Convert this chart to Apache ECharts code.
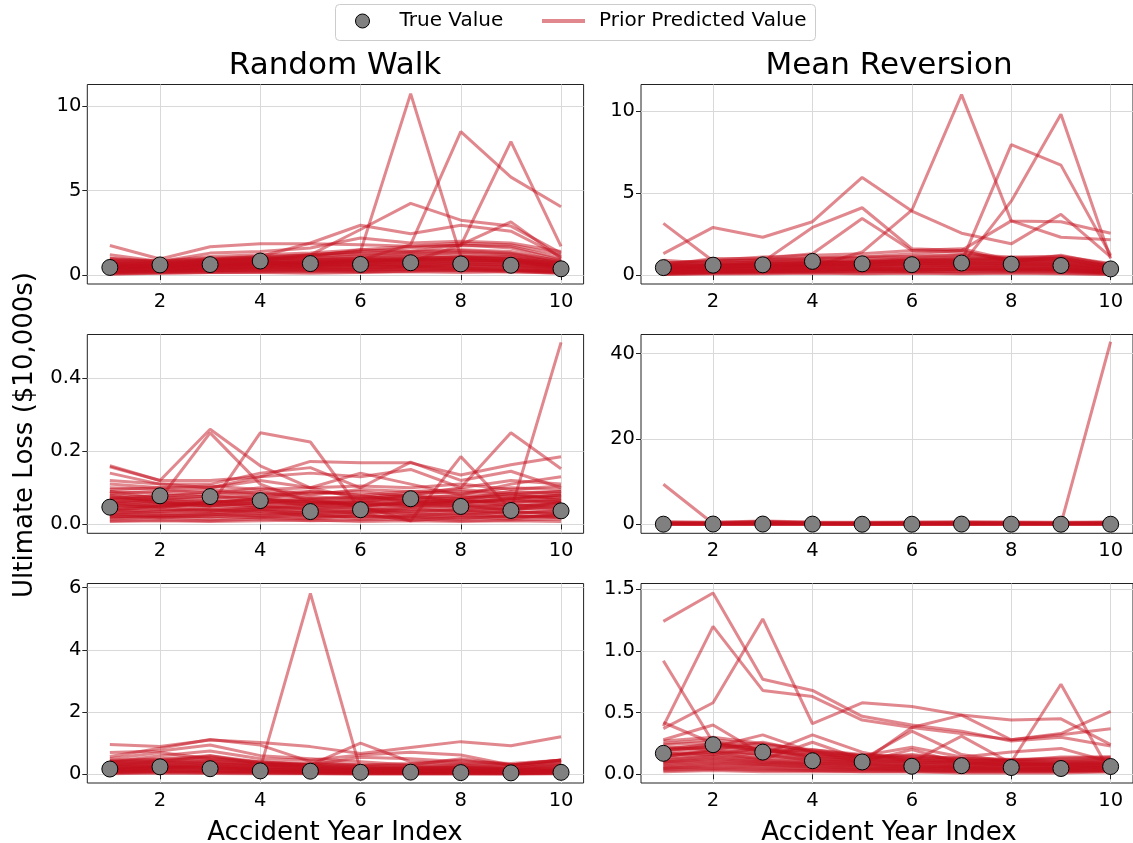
<!DOCTYPE html>
<html>
<head>
<meta charset="utf-8">
<script src="https://cdn.jsdelivr.net/npm/echarts@6/dist/echarts.min.js"></script>
<style>
html, body { margin: 0; padding: 0; background: #fff; }
#main { width: 1133px; height: 843px; }
</style>
</head>
<body>
<div id="main"></div>
<script>
// accident year index (x axis)
var years = [1, 2, 3, 4, 5, 6, 7, 8, 9, 10];

// true values, one array per row (same data for both models)
var trueTop = [0.45, 0.60, 0.62, 0.83, 0.68, 0.63, 0.73, 0.66, 0.58, 0.37];
var trueMid = [0.047, 0.078, 0.076, 0.065, 0.035, 0.040, 0.070, 0.049, 0.038, 0.037];
var trueBot = [0.17, 0.24, 0.18, 0.11, 0.10, 0.065, 0.07, 0.055, 0.047, 0.063];

// prior predicted draws - Random Walk, top row
var rwTop = [
  [0.30,0.45,0.50,0.60,0.55,0.60,0.70,0.65,0.60,0.40],
  [0.50,0.55,0.70,0.80,0.75,0.90,0.85,0.95,0.80,0.50],
  [0.20,0.30,0.35,0.40,0.45,0.40,0.50,0.45,0.40,0.25],
  [0.65,0.70,0.80,0.95,1.00,1.10,1.20,1.30,1.20,0.70],
  [0.15,0.20,0.25,0.30,0.25,0.30,0.35,0.30,0.30,0.20],
  [0.40,0.50,0.60,0.70,0.80,0.75,0.90,1.00,0.95,0.60],
  [0.80,0.75,0.90,1.00,1.10,1.30,1.40,1.50,1.40,0.80],
  [0.10,0.15,0.20,0.20,0.25,0.20,0.25,0.30,0.25,0.15],
  [0.35,0.40,0.45,0.55,0.60,0.65,0.60,0.70,0.75,0.45],
  [0.55,0.60,0.65,0.75,0.70,0.85,0.95,0.90,0.85,0.55],
  [0.25,0.35,0.40,0.45,0.50,0.55,0.50,0.60,0.55,0.35],
  [0.70,0.65,0.85,0.90,0.95,1.00,1.10,1.15,1.05,0.65],
  [0.45,0.50,0.55,0.65,0.60,0.70,0.80,0.75,0.70,0.45],
  [0.05,0.10,0.15,0.15,0.10,0.15,0.20,0.15,0.20,0.10],
  [0.60,0.55,0.75,0.85,0.90,0.95,1.00,1.05,1.10,0.75],
  [0.90,0.85,1.00,1.10,1.20,1.40,1.60,1.80,1.60,0.90],
  [0.30,0.30,0.40,0.50,0.45,0.50,0.55,0.50,0.50,0.30],
  [0.20,0.25,0.30,0.35,0.40,0.35,0.45,0.40,0.35,0.20],
  [1.00,0.80,1.10,1.20,1.30,1.50,1.70,1.75,1.70,1.00],
  [0.40,0.45,0.50,0.55,0.65,0.60,0.70,0.80,0.75,0.50],
  [0.35,0.50,0.55,0.70,0.65,0.80,0.75,0.85,0.80,0.45],
  [0.15,0.25,0.30,0.35,0.30,0.35,0.40,0.40,0.35,0.20],
  [0.75,0.70,0.85,1.00,0.95,1.15,1.25,1.35,1.25,0.75],
  [0.50,0.45,0.60,0.65,0.70,0.80,0.85,0.85,0.90,0.55],
  [0.25,0.30,0.35,0.45,0.40,0.45,0.50,0.55,0.50,0.30],
  [0.60,0.65,0.75,0.85,0.85,0.95,1.05,1.00,0.95,0.60],
  [0.08,0.12,0.15,0.18,0.20,0.18,0.22,0.25,0.20,0.12],
  [0.45,0.55,0.60,0.70,0.75,0.80,0.90,0.90,0.85,0.50],
  [0.85,0.80,0.95,1.05,1.15,1.25,1.35,1.45,1.30,0.85],
  [0.30,0.35,0.45,0.50,0.55,0.55,0.60,0.65,0.60,0.40],
  [0.55,0.50,0.65,0.75,0.80,0.90,0.95,1.10,1.00,0.65],
  [0.20,0.20,0.25,0.30,0.35,0.30,0.35,0.35,0.30,0.15],
  [1.00,0.70,0.90,1.00,1.20,1.40,10.75,1.10,0.90,0.70],
  [0.50,0.45,0.60,0.70,0.80,0.90,1.80,8.50,5.80,4.05],
  [0.30,0.40,0.50,0.55,0.60,0.70,0.80,1.75,7.90,1.70],
  [1.75,0.95,1.68,1.85,1.85,1.80,1.70,1.90,1.80,1.20],
  [0.80,0.60,0.90,1.10,1.90,2.95,2.45,2.95,2.60,1.10],
  [0.60,0.50,0.70,0.80,1.20,2.70,4.25,3.25,2.90,1.30],
  [0.70,0.55,0.80,0.90,1.10,1.50,1.40,1.80,3.15,1.00],
  [1.20,0.80,1.30,1.40,1.60,2.20,1.90,2.00,1.90,1.40]
];

// Mean Reversion, top row
var mrTop = [
  [0.20,0.30,0.35,0.40,0.45,0.40,0.50,0.45,0.40,0.20],
  [0.40,0.50,0.55,0.65,0.60,0.70,0.75,0.70,0.65,0.35],
  [0.10,0.15,0.20,0.20,0.25,0.20,0.25,0.30,0.25,0.10],
  [0.60,0.70,0.80,0.90,0.85,1.00,1.10,0.95,0.90,0.50],
  [0.30,0.35,0.40,0.50,0.55,0.60,0.55,0.60,0.55,0.30],
  [0.05,0.10,0.10,0.15,0.10,0.15,0.10,0.15,0.10,0.05],
  [0.50,0.60,0.65,0.75,0.80,0.85,0.90,0.85,0.80,0.45],
  [0.25,0.20,0.30,0.35,0.30,0.35,0.40,0.35,0.30,0.15],
  [0.70,0.80,0.90,1.00,1.00,1.10,1.20,1.00,1.00,0.60],
  [0.15,0.25,0.25,0.30,0.35,0.30,0.35,0.40,0.35,0.20],
  [0.35,0.45,0.50,0.55,0.60,0.65,0.70,0.65,0.60,0.30],
  [0.45,0.40,0.60,0.60,0.70,0.75,0.80,0.75,0.70,0.40],
  [0.08,0.12,0.15,0.18,0.20,0.25,0.20,0.22,0.18,0.08],
  [0.55,0.65,0.70,0.80,0.90,0.95,1.00,0.90,0.95,0.55],
  [0.28,0.30,0.32,0.45,0.40,0.45,0.50,0.50,0.45,0.25],
  [0.12,0.18,0.22,0.25,0.28,0.32,0.30,0.28,0.26,0.12],
  [0.65,0.55,0.75,0.85,0.75,0.90,0.95,1.05,1.10,0.65],
  [0.38,0.42,0.45,0.60,0.50,0.55,0.65,0.55,0.50,0.28],
  [0.22,0.28,0.30,0.38,0.40,0.42,0.45,0.40,0.38,0.18],
  [0.48,0.55,0.62,0.70,0.70,0.78,0.82,0.78,0.72,0.42],
  [0.14,0.20,0.22,0.28,0.30,0.28,0.32,0.32,0.30,0.14],
  [0.58,0.62,0.72,0.82,0.80,0.92,1.00,0.90,0.85,0.48],
  [0.32,0.38,0.45,0.52,0.50,0.55,0.60,0.58,0.52,0.26],
  [0.03,0.06,0.08,0.10,0.08,0.10,0.08,0.10,0.08,0.03],
  [0.42,0.48,0.52,0.62,0.65,0.68,0.72,0.68,0.62,0.36],
  [0.75,0.85,0.95,1.05,1.10,1.15,1.25,1.10,1.15,0.70],
  [0.18,0.22,0.28,0.32,0.35,0.38,0.35,0.38,0.34,0.18],
  [0.52,0.58,0.68,0.72,0.78,0.82,0.88,0.82,0.78,0.40],
  [0.40,0.50,0.60,0.50,1.40,3.95,11.00,3.30,3.25,2.55],
  [0.30,0.40,0.40,0.50,0.60,0.70,0.60,4.50,9.80,1.00],
  [0.50,0.60,0.50,0.70,0.80,0.90,0.80,7.95,6.70,1.20],
  [3.15,0.85,0.90,1.00,1.10,1.30,1.50,3.30,2.30,2.15],
  [1.30,2.90,2.30,3.25,5.95,3.90,2.55,1.90,3.70,1.10],
  [0.90,0.70,0.80,2.90,4.10,1.60,1.50,0.80,1.20,0.60],
  [0.60,1.00,1.00,1.30,3.45,1.50,1.40,0.90,1.00,0.50],
  [0.70,0.90,1.10,1.20,1.30,1.50,1.60,0.90,1.00,0.50]
];

// Random Walk, middle row
var rwMid = [
  [0.030,0.040,0.035,0.045,0.030,0.035,0.040,0.035,0.030,0.035],
  [0.050,0.060,0.055,0.050,0.045,0.050,0.060,0.055,0.050,0.055],
  [0.020,0.025,0.020,0.030,0.025,0.020,0.025,0.030,0.020,0.025],
  [0.070,0.080,0.075,0.070,0.060,0.065,0.070,0.080,0.075,0.080],
  [0.040,0.035,0.045,0.040,0.050,0.045,0.035,0.040,0.045,0.040],
  [0.090,0.085,0.080,0.090,0.070,0.075,0.085,0.090,0.080,0.090],
  [0.015,0.020,0.015,0.020,0.015,0.025,0.020,0.015,0.025,0.020],
  [0.060,0.070,0.065,0.060,0.055,0.060,0.065,0.060,0.065,0.060],
  [0.035,0.050,0.040,0.035,0.040,0.030,0.045,0.050,0.040,0.050],
  [0.080,0.075,0.090,0.080,0.085,0.090,0.075,0.070,0.090,0.085],
  [0.025,0.030,0.030,0.025,0.035,0.040,0.030,0.025,0.035,0.030],
  [0.045,0.055,0.050,0.060,0.050,0.055,0.050,0.065,0.060,0.070],
  [0.010,0.012,0.010,0.015,0.010,0.012,0.015,0.010,0.012,0.015],
  [0.100,0.095,0.085,0.100,0.080,0.095,0.090,0.085,0.100,0.095],
  [0.055,0.045,0.060,0.055,0.065,0.050,0.055,0.045,0.055,0.045],
  [0.065,0.075,0.070,0.080,0.075,0.070,0.080,0.075,0.070,0.075],
  [0.030,0.020,0.025,0.040,0.020,0.030,0.010,0.020,0.015,0.030],
  [0.075,0.065,0.060,0.070,0.090,0.080,0.060,0.065,0.085,0.065],
  [0.028,0.035,0.040,0.030,0.028,0.030,0.035,0.040,0.030,0.040],
  [0.062,0.058,0.060,0.065,0.060,0.058,0.062,0.058,0.060,0.065],
  [0.018,0.022,0.028,0.022,0.018,0.022,0.018,0.025,0.022,0.018],
  [0.085,0.090,0.095,0.085,0.090,0.080,0.090,0.095,0.085,0.090],
  [0.045,0.042,0.038,0.048,0.042,0.040,0.045,0.038,0.042,0.048],
  [0.072,0.068,0.078,0.072,0.068,0.075,0.068,0.072,0.078,0.072],
  [0.008,0.010,0.008,0.010,0.012,0.008,0.010,0.008,0.010,0.008],
  [0.052,0.048,0.052,0.045,0.058,0.062,0.050,0.052,0.048,0.058],
  [0.038,0.028,0.032,0.038,0.032,0.035,0.028,0.032,0.035,0.028],
  [0.095,0.100,0.105,0.095,0.100,0.105,0.100,0.110,0.095,0.105],
  [0.058,0.065,0.062,0.068,0.062,0.068,0.072,0.062,0.068,0.062],
  [0.022,0.018,0.022,0.018,0.028,0.015,0.022,0.018,0.020,0.022],
  [0.040,0.050,0.060,0.050,0.040,0.050,0.060,0.050,0.038,0.497],
  [0.160,0.120,0.260,0.160,0.100,0.070,0.080,0.060,0.070,0.080],
  [0.090,0.070,0.250,0.110,0.060,0.050,0.060,0.070,0.050,0.060],
  [0.080,0.060,0.050,0.250,0.225,0.040,0.050,0.060,0.070,0.080],
  [0.060,0.050,0.060,0.070,0.050,0.060,0.080,0.100,0.250,0.152],
  [0.070,0.060,0.050,0.060,0.070,0.050,0.010,0.185,0.040,0.060],
  [0.157,0.120,0.120,0.130,0.172,0.168,0.168,0.135,0.163,0.185],
  [0.140,0.110,0.110,0.140,0.155,0.100,0.170,0.120,0.145,0.100],
  [0.120,0.110,0.100,0.130,0.140,0.130,0.150,0.100,0.120,0.110],
  [0.110,0.100,0.100,0.120,0.100,0.140,0.110,0.080,0.110,0.130]
];

// Mean Reversion, middle row
var mrMid = [
  [0.05,0.05,0.10,0.05,0.05,0.05,0.05,0.05,0.05,0.05],
  [0.20,0.15,0.30,0.20,0.15,0.20,0.25,0.20,0.15,0.20],
  [0.40,0.35,0.50,0.40,0.35,0.40,0.45,0.40,0.35,0.40],
  [0.10,0.10,0.15,0.10,0.10,0.10,0.12,0.10,0.08,0.10],
  [0.30,0.25,0.60,0.30,0.25,0.30,0.35,0.30,0.25,0.30],
  [0.60,0.50,0.80,0.55,0.50,0.55,0.60,0.55,0.50,0.55],
  [0.02,0.03,0.04,0.03,0.02,0.03,0.03,0.02,0.02,0.03],
  [0.15,0.20,0.25,0.15,0.20,0.15,0.20,0.15,0.20,0.15],
  [0.50,0.45,0.70,0.45,0.40,0.45,0.50,0.45,0.40,0.50],
  [0.08,0.06,0.07,0.08,0.06,0.07,0.06,0.08,0.07,0.06],
  [9.40,0.20,0.30,0.20,0.15,0.20,0.25,0.20,0.20,0.25],
  [0.10,0.08,0.12,0.10,0.08,0.10,0.10,0.08,0.10,42.80]
];

// Random Walk, bottom row
var rwBot = [
  [0.10,0.15,0.12,0.10,0.08,0.06,0.05,0.06,0.04,0.05],
  [0.20,0.25,0.22,0.18,0.15,0.12,0.10,0.12,0.10,0.12],
  [0.30,0.35,0.40,0.30,0.25,0.20,0.18,0.20,0.15,0.20],
  [0.05,0.08,0.06,0.05,0.04,0.03,0.03,0.03,0.02,0.03],
  [0.15,0.20,0.30,0.15,0.12,0.10,0.08,0.10,0.08,0.10],
  [0.40,0.45,0.50,0.35,0.30,0.25,0.22,0.25,0.20,0.30],
  [0.25,0.30,0.25,0.22,0.20,0.15,0.14,0.15,0.12,0.15],
  [0.08,0.10,0.12,0.08,0.06,0.05,0.04,0.05,0.05,0.06],
  [0.35,0.40,0.35,0.28,0.22,0.18,0.16,0.18,0.14,0.22],
  [0.12,0.18,0.16,0.12,0.10,0.08,0.07,0.08,0.06,0.08],
  [0.45,0.50,0.60,0.40,0.35,0.30,0.28,0.32,0.25,0.40],
  [0.18,0.22,0.20,0.16,0.14,0.12,0.12,0.12,0.10,0.12],
  [0.02,0.04,0.03,0.02,0.02,0.01,0.01,0.02,0.01,0.02],
  [0.22,0.28,0.35,0.25,0.18,0.16,0.20,0.22,0.18,0.25],
  [0.18,0.24,0.20,0.16,0.13,0.11,0.10,0.11,0.09,0.12],
  [0.28,0.32,0.35,0.26,0.22,0.18,0.16,0.17,0.14,0.18],
  [0.06,0.10,0.08,0.07,0.05,0.04,0.04,0.05,0.03,0.05],
  [0.38,0.42,0.45,0.34,0.28,0.22,0.20,0.23,0.18,0.28],
  [0.14,0.18,0.20,0.14,0.11,0.09,0.08,0.09,0.07,0.10],
  [0.24,0.26,0.30,0.24,0.19,0.14,0.13,0.14,0.11,0.16],
  [0.10,0.12,0.11,0.09,0.07,0.06,0.06,0.06,0.05,0.07],
  [0.32,0.38,0.42,0.32,0.26,0.20,0.19,0.22,0.17,0.35],
  [0.04,0.06,0.05,0.04,0.03,0.02,0.02,0.03,0.02,0.04],
  [0.42,0.48,0.55,0.38,0.32,0.28,0.26,0.30,0.22,0.45],
  [0.15,0.20,0.25,0.19,5.81,0.14,0.10,0.12,0.08,0.10],
  [0.96,0.89,1.10,1.02,0.89,0.67,0.86,1.05,0.92,1.21],
  [0.57,0.84,1.12,0.94,0.41,0.30,0.35,0.45,0.30,0.46],
  [0.30,0.40,0.60,0.35,0.30,1.00,0.40,0.35,0.30,0.35],
  [0.40,0.60,0.75,0.50,0.45,0.62,0.71,0.62,0.30,0.46],
  [0.70,0.75,0.94,0.60,0.50,0.40,0.30,0.50,0.30,0.45],
  [0.50,0.70,0.50,0.40,0.30,0.55,0.50,0.40,0.35,0.45]
];

// Mean Reversion, bottom row
var mrBot = [
  [0.05,0.06,0.05,0.04,0.04,0.03,0.03,0.03,0.03,0.03],
  [0.10,0.12,0.10,0.08,0.07,0.06,0.06,0.05,0.05,0.06],
  [0.15,0.18,0.15,0.12,0.10,0.09,0.08,0.08,0.07,0.08],
  [0.20,0.25,0.20,0.16,0.14,0.12,0.11,0.10,0.10,0.11],
  [0.02,0.03,0.02,0.02,0.02,0.02,0.01,0.01,0.01,0.02],
  [0.08,0.10,0.08,0.07,0.06,0.05,0.05,0.04,0.04,0.05],
  [0.12,0.15,0.12,0.10,0.09,0.08,0.07,0.07,0.06,0.07],
  [0.18,0.22,0.18,0.14,0.12,0.11,0.10,0.09,0.09,0.10],
  [0.25,0.28,0.24,0.20,0.16,0.14,0.13,0.12,0.12,0.13],
  [0.04,0.05,0.04,0.03,0.03,0.03,0.02,0.02,0.02,0.03],
  [0.14,0.20,0.16,0.11,0.10,0.20,0.09,0.08,0.08,0.09],
  [0.06,0.08,0.07,0.06,0.05,0.04,0.04,0.04,0.03,0.04],
  [0.22,0.20,0.26,0.18,0.13,0.16,0.12,0.11,0.14,0.14],
  [0.11,0.14,0.11,0.09,0.08,0.07,0.06,0.06,0.05,0.06],
  [0.17,0.16,0.21,0.13,0.11,0.10,0.09,0.09,0.08,0.09],
  [0.09,0.11,0.09,0.08,0.07,0.06,0.05,0.05,0.05,0.05],
  [0.07,0.09,0.08,0.06,0.05,0.05,0.04,0.04,0.04,0.04],
  [0.13,0.16,0.13,0.11,0.09,0.08,0.07,0.07,0.06,0.07],
  [0.19,0.23,0.19,0.15,0.13,0.12,0.10,0.10,0.09,0.10],
  [0.03,0.04,0.03,0.03,0.02,0.02,0.02,0.02,0.02,0.02],
  [0.24,0.26,0.22,0.18,0.15,0.13,0.12,0.11,0.11,0.12],
  [0.10,0.13,0.10,0.09,0.08,0.07,0.06,0.06,0.05,0.06],
  [0.16,0.19,0.16,0.13,0.11,0.10,0.09,0.08,0.08,0.09],
  [0.21,0.24,0.21,0.17,0.14,0.13,0.11,0.11,0.10,0.12],
  [0.27,0.30,0.25,0.19,0.15,0.15,0.13,0.12,0.13,0.14],
  [0.05,0.07,0.06,0.05,0.04,0.04,0.03,0.03,0.03,0.03],
  [1.24,1.47,0.77,0.68,0.47,0.40,0.35,0.27,0.30,0.23],
  [0.39,1.20,0.68,0.63,0.44,0.38,0.33,0.28,0.32,0.37],
  [0.37,0.58,1.26,0.41,0.58,0.55,0.48,0.44,0.45,0.24],
  [0.92,0.26,0.20,0.15,0.12,0.10,0.09,0.08,0.08,0.07],
  [0.28,0.40,0.16,0.32,0.18,0.10,0.31,0.09,0.07,0.08],
  [0.20,0.22,0.32,0.18,0.10,0.38,0.48,0.28,0.33,0.51],
  [0.15,0.18,0.12,0.26,0.12,0.35,0.16,0.10,0.73,0.01],
  [0.42,0.25,0.18,0.20,0.15,0.22,0.14,0.18,0.21,0.10]
];

var xTicks = [2, 4, 6, 8, 10];

var red = '#c40f1e';
var font = 'DejaVu Sans';

var panels = [
  {lines: rwTop, truth: trueTop, min: -0.53, max: 11.29, ticks: [0, 5, 10], dec: 0, left: 87.3, top: 84.5, h: 199.5},
  {lines: mrTop, truth: trueTop, min: -0.549, max: 11.616, ticks: [0, 5, 10], dec: 0, left: 641, top: 84.5, h: 199.5},
  {lines: rwMid, truth: trueMid, min: -0.0243, max: 0.5185, ticks: [0, 0.2, 0.4], dec: 1, left: 87.3, top: 334.5, h: 198.8},
  {lines: mrMid, truth: trueMid, min: -2.09, max: 44.5, ticks: [0, 20, 40], dec: 0, left: 641, top: 334.5, h: 198.8},
  {lines: rwBot, truth: trueBot, min: -0.279, max: 6.13, ticks: [0, 2, 4, 6], dec: 0, left: 87.3, top: 583.5, h: 199.5},
  {lines: mrBot, truth: trueBot, min: -0.0705, max: 1.547, ticks: [0, 0.5, 1.0, 1.5], dec: 1, left: 641, top: 583.5, h: 199.5}
];

var grids = [], xAxes = [], yAxes = [], series = [];

panels.forEach(function (p, i) {
  grids.push({
    left: p.left, top: p.top, width: 496.3, height: p.h,
    show: true, borderColor: '#222', borderWidth: 1, backgroundColor: 'transparent'
  });
  xAxes.push({
    type: 'value', gridIndex: i, min: 0.55, max: 10.45,
    axisLine: {show: false},
    axisTick: {show: true, length: 5, customValues: xTicks, lineStyle: {color: '#222'}},
    axisLabel: {customValues: xTicks, margin: 8, fontSize: 19.5, fontFamily: font, color: '#000'},
    splitLine: {show: true, lineStyle: {color: '#d9d9d9', width: 1}}
  });
  yAxes.push({
    type: 'value', gridIndex: i, min: p.min, max: p.max,
    axisLine: {show: false},
    axisTick: {show: true, length: 5, customValues: p.ticks, lineStyle: {color: '#222'}},
    axisLabel: {
      customValues: p.ticks, margin: 6, fontSize: 19.5, fontFamily: font, color: '#000',
      formatter: (function (d) { return function (v) { return v.toFixed(d); }; })(p.dec)
    },
    splitLine: {show: true, lineStyle: {color: '#d9d9d9', width: 1}}
  });
  p.lines.forEach(function (row) {
    series.push({
      type: 'line', name: 'Prior Predicted Value',
      xAxisIndex: i, yAxisIndex: i,
      data: years.map(function (x, k) { return [x, row[k]]; }),
      symbol: 'none', silent: true, z: 2,
      lineStyle: {color: red, width: 3, opacity: 0.5},
      itemStyle: {color: red, opacity: 0.5}
    });
  });
  series.push({
    type: 'scatter', name: 'True Value',
    xAxisIndex: i, yAxisIndex: i,
    data: years.map(function (x, k) { return [x, p.truth[k]]; }),
    symbol: 'circle', symbolSize: 16, z: 5, silent: true,
    itemStyle: {color: '#808080', borderColor: '#000', borderWidth: 1, opacity: 1}
  });
});

var myChart = echarts.init(document.getElementById('main'));

var legendText = {fontSize: 20, fontFamily: font, color: '#000'};

option = {
  animation: false,
  backgroundColor: '#fff',
  legend: [
    {
      data: [{name: 'True Value', icon: 'path://M0,0M64,14M39,7A7,7,0,1,1,25,7A7,7,0,1,1,39,7Z',
              itemStyle: {color: '#808080', borderColor: '#000', borderWidth: 1, opacity: 1}}],
      left: 330, top: 11, padding: 0,
      itemWidth: 64, itemHeight: 14,
      textStyle: legendText, z: 10
    },
    {
      data: [{name: 'Prior Predicted Value', icon: 'path://M0,0M52,14M0,5L43,5L43,9L0,9Z',
              itemStyle: {color: red, opacity: 0.5, borderWidth: 0}}],
      left: 542, top: 11, padding: 0,
      itemWidth: 52, itemHeight: 14,
      textStyle: legendText, z: 10
    }
  ],
  grid: grids,
  xAxis: xAxes,
  yAxis: yAxes,
  series: series,
  graphic: [
    {type: 'rect', left: 335, top: 4, z: 0,
     shape: {width: 480, height: 36, r: 4},
     style: {fill: '#fff', stroke: '#cccccc', lineWidth: 1}},
    {type: 'text', x: 335, y: 66, style: {text: 'Random Walk', fontSize: 31, fontFamily: font, fill: '#000', align: 'center', verticalAlign: 'middle'}},
    {type: 'text', x: 889, y: 66, style: {text: 'Mean Reversion', fontSize: 31, fontFamily: font, fill: '#000', align: 'center', verticalAlign: 'middle'}},
    {type: 'text', x: 335, y: 833, style: {text: 'Accident Year Index', fontSize: 26, fontFamily: font, fill: '#000', align: 'center', verticalAlign: 'middle'}},
    {type: 'text', x: 889, y: 833, style: {text: 'Accident Year Index', fontSize: 26, fontFamily: font, fill: '#000', align: 'center', verticalAlign: 'middle'}},
    {type: 'text', x: 25, y: 435, rotation: Math.PI / 2, style: {text: 'Ultimate Loss ($10,000s)', fontSize: 26, fontFamily: font, fill: '#000', align: 'center', verticalAlign: 'middle'}}
  ]
};

myChart.setOption(option);
</script>
</body>
</html>
